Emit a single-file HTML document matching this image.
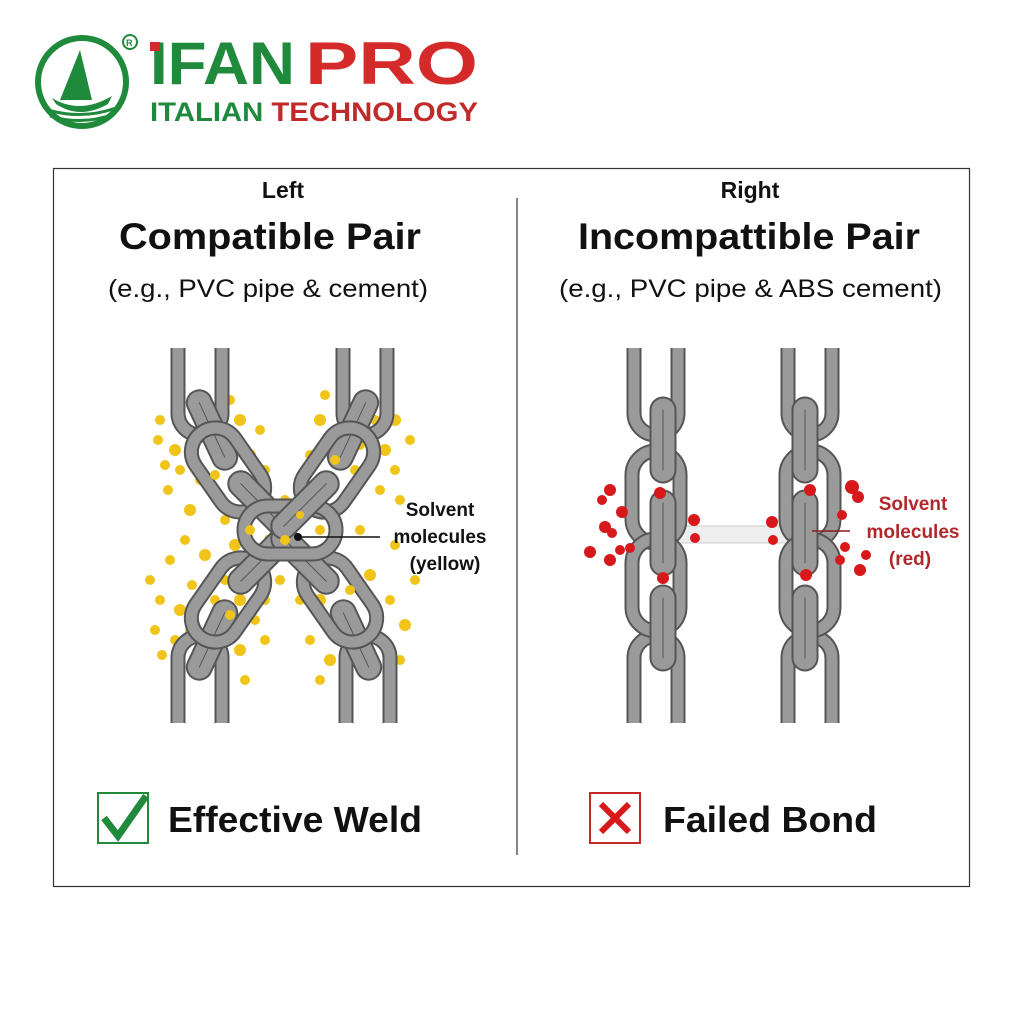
<!DOCTYPE html>
<html><head><meta charset="utf-8"><style>
html,body{margin:0;padding:0;background:#fff;}
body{width:1024px;height:1024px;overflow:hidden;font-family:"Liberation Sans",sans-serif;}
</style></head><body>
<svg width="1024" height="1024" viewBox="0 0 1024 1024" xmlns="http://www.w3.org/2000/svg" font-family="Liberation Sans, sans-serif">
<defs>
<g id="face"><rect x="-24" y="-46" width="48" height="92" rx="24" fill="none" stroke="#555" stroke-width="15"/><rect x="-24" y="-46" width="48" height="92" rx="24" fill="none" stroke="#9a9a9a" stroke-width="11"/></g>
<g id="side"><rect x="-6" y="-36" width="12" height="72" rx="6" fill="none" stroke="#555" stroke-width="15"/><rect x="-6" y="-36" width="12" height="72" rx="6" fill="none" stroke="#9a9a9a" stroke-width="11"/></g>
<g id="utop"><path d="M-22,-75 V-10 A22,22 0 0 0 22,-10 V-75" fill="none" stroke="#555" stroke-width="15"/><path d="M-22,-75 V-10 A22,22 0 0 0 22,-10 V-75" fill="none" stroke="#9a9a9a" stroke-width="11"/></g>
<g id="ubot"><path d="M-22,75 V10 A22,22 0 0 1 22,10 V75" fill="none" stroke="#555" stroke-width="15"/><path d="M-22,75 V10 A22,22 0 0 1 22,10 V75" fill="none" stroke="#9a9a9a" stroke-width="11"/></g>
</defs>
<!-- logo -->
<circle cx="82" cy="82" r="44" fill="none" stroke="#1f8a3c" stroke-width="6"/>
<path d="M80,50 L92,100 L60,100 Z" fill="#1f8a3c"/>
<path d="M52,98 Q80,115 112,96 L108,104 Q80,120 56,104Z" fill="#1f8a3c"/>
<path d="M48,110 Q82,120 116,108 M50,116 Q82,126 114,114" stroke="#1f8a3c" stroke-width="3" fill="none"/>
<circle cx="130" cy="42" r="7" fill="none" stroke="#1f8a3c" stroke-width="2"/>
<text x="126" y="46" font-size="9" font-weight="bold" fill="#1f8a3c">R</text>
<text x="150" y="84" font-size="60" font-weight="bold" fill="#1f8a3c" textLength="145" lengthAdjust="spacingAndGlyphs">IFAN</text>
<rect x="150" y="42" width="10" height="9" fill="#d42a2a"/>
<text x="305" y="84" font-size="60" font-weight="bold" fill="#d42a2a" textLength="173" lengthAdjust="spacingAndGlyphs">PRO</text>
<text x="150" y="121" font-size="27" font-weight="bold" fill="#1f8a3c" textLength="328" lengthAdjust="spacingAndGlyphs">ITALIAN <tspan fill="#c02a2a">TECHNOLOGY</tspan></text>
<!-- frame -->
<rect x="53.5" y="168.5" width="916" height="718" fill="none" stroke="#333" stroke-width="1.2"/>
<line x1="517" y1="198" x2="517" y2="855" stroke="#333" stroke-width="1.2"/>
<g fill="#111">
<text x="283" y="198" font-size="23" font-weight="bold" text-anchor="middle">Left</text>
<text x="119" y="249" font-size="37" font-weight="bold" textLength="302" lengthAdjust="spacingAndGlyphs">Compatible Pair</text>
<text x="108" y="297" font-size="25" textLength="320" lengthAdjust="spacingAndGlyphs">(e.g., PVC pipe &amp; cement)</text>
<text x="750" y="198" font-size="23" font-weight="bold" text-anchor="middle">Right</text>
<text x="578" y="249" font-size="37" font-weight="bold" textLength="342" lengthAdjust="spacingAndGlyphs">Incompattible Pair</text>
<text x="559" y="297" font-size="25" textLength="383" lengthAdjust="spacingAndGlyphs">(e.g., PVC pipe &amp; ABS cement)</text>
</g>
<!-- left yellow -->
<g fill="#f0c419">
<circle cx="160" cy="420" r="5"/><circle cx="158" cy="440" r="5"/><circle cx="175" cy="450" r="6"/><circle cx="180" cy="470" r="5"/><circle cx="168" cy="490" r="5"/><circle cx="190" cy="510" r="6"/><circle cx="185" cy="540" r="5"/><circle cx="205" cy="555" r="6"/><circle cx="170" cy="560" r="5"/><circle cx="160" cy="600" r="5"/><circle cx="155" cy="630" r="5"/><circle cx="180" cy="610" r="6"/><circle cx="175" cy="640" r="5"/><circle cx="230" cy="400" r="5"/><circle cx="240" cy="420" r="6"/><circle cx="235" cy="440" r="5"/><circle cx="250" cy="455" r="6"/><circle cx="265" cy="470" r="5"/><circle cx="245" cy="495" r="6"/><circle cx="225" cy="520" r="5"/><circle cx="235" cy="545" r="6"/><circle cx="250" cy="570" r="5"/><circle cx="240" cy="600" r="6"/><circle cx="255" cy="620" r="5"/><circle cx="240" cy="650" r="6"/><circle cx="245" cy="680" r="5"/><circle cx="215" cy="600" r="5"/><circle cx="225" cy="580" r="5"/><circle cx="200" cy="660" r="5"/><circle cx="325" cy="395" r="5"/><circle cx="320" cy="420" r="6"/><circle cx="335" cy="430" r="5"/><circle cx="310" cy="455" r="5"/><circle cx="300" cy="480" r="6"/><circle cx="285" cy="500" r="5"/><circle cx="310" cy="510" r="5"/><circle cx="330" cy="550" r="6"/><circle cx="310" cy="570" r="5"/><circle cx="320" cy="600" r="6"/><circle cx="335" cy="630" r="5"/><circle cx="330" cy="660" r="6"/><circle cx="320" cy="680" r="5"/><circle cx="375" cy="420" r="5"/><circle cx="395" cy="420" r="6"/><circle cx="410" cy="440" r="5"/><circle cx="385" cy="450" r="6"/><circle cx="395" cy="470" r="5"/><circle cx="380" cy="490" r="5"/><circle cx="360" cy="530" r="5"/><circle cx="370" cy="575" r="6"/><circle cx="390" cy="600" r="5"/><circle cx="405" cy="625" r="6"/><circle cx="385" cy="640" r="5"/><circle cx="400" cy="660" r="5"/><circle cx="350" cy="650" r="5"/><circle cx="270" cy="540" r="6"/><circle cx="295" cy="555" r="5"/><circle cx="280" cy="580" r="5"/><circle cx="265" cy="600" r="5"/><circle cx="300" cy="600" r="5"/><circle cx="210" cy="440" r="5"/><circle cx="200" cy="480" r="5"/><circle cx="355" cy="470" r="5"/><circle cx="150" cy="580" r="5"/><circle cx="415" cy="580" r="5"/>
<circle cx="165" cy="465" r="5"/><circle cx="192" cy="585" r="5"/><circle cx="162" cy="655" r="5"/><circle cx="190" cy="630" r="5"/><circle cx="265" cy="640" r="5"/><circle cx="400" cy="500" r="5"/><circle cx="345" cy="400" r="5"/><circle cx="360" cy="445" r="5"/><circle cx="395" cy="545" r="5"/><circle cx="345" cy="610" r="5"/><circle cx="310" cy="640" r="5"/><circle cx="260" cy="430" r="5"/>
</g>
<!-- left chains -->
<use href="#utop" x="200" y="423"/>
<use href="#side" transform="translate(212,430) rotate(-25)"/>
<use href="#face" transform="translate(228,470) rotate(-35)"/>
<use href="#side" transform="translate(262,505) rotate(-45)"/>
<use href="#ubot" x="200" y="648"/>
<use href="#side" transform="translate(212,640) rotate(25)"/>
<use href="#face" transform="translate(228,600) rotate(35)"/>
<use href="#side" transform="translate(262,560) rotate(45)"/>
<use href="#utop" x="365" y="423"/>
<use href="#side" transform="translate(353,430) rotate(25)"/>
<use href="#face" transform="translate(337,470) rotate(35)"/>
<use href="#ubot" x="368" y="648"/>
<use href="#side" transform="translate(356,640) rotate(-25)"/>
<use href="#face" transform="translate(340,600) rotate(-35)"/>
<use href="#side" transform="translate(305,560) rotate(-45)"/>
<use href="#face" transform="translate(290,530) rotate(90)"/>
<use href="#side" transform="translate(305,505) rotate(45)"/>
<g fill="#f0c419"><circle cx="285" cy="540" r="5"/><circle cx="320" cy="530" r="5"/><circle cx="250" cy="530" r="5"/><circle cx="300" cy="515" r="4"/><circle cx="215" cy="475" r="5"/><circle cx="350" cy="590" r="5"/><circle cx="230" cy="615" r="5"/><circle cx="335" cy="460" r="5"/></g>
<circle cx="298" cy="537" r="4" fill="#111"/>
<line x1="302" y1="537" x2="380" y2="537" stroke="#111" stroke-width="1.5"/>
<g text-anchor="middle" font-size="19" font-weight="bold" fill="#111">
<text x="440" y="516">Solvent</text><text x="440" y="543">molecules</text><text x="445" y="570">(yellow)</text>
</g>
<!-- right bar -->
<rect x="676" y="526" width="118" height="17" fill="#eee" stroke="#ccc"/>
<!-- right chains -->
<g>
<use href="#utop" x="656" y="423"/>
<use href="#ubot" x="656" y="648"/>
<use href="#face" x="656" y="497"/>
<use href="#face" x="656" y="585"/>
<use href="#side" x="663" y="440"/>
<use href="#side" x="663" y="533"/>
<use href="#side" x="663" y="628"/>
<use href="#utop" x="810" y="423"/>
<use href="#ubot" x="810" y="648"/>
<use href="#face" x="810" y="497"/>
<use href="#face" x="810" y="585"/>
<use href="#side" x="805" y="440"/>
<use href="#side" x="805" y="533"/>
<use href="#side" x="805" y="628"/>
</g>
<g fill="#d8191c">
<circle cx="610" cy="490" r="6"/><circle cx="602" cy="500" r="5"/><circle cx="622" cy="512" r="6"/><circle cx="605" cy="527" r="6"/><circle cx="612" cy="533" r="5"/><circle cx="590" cy="552" r="6"/><circle cx="610" cy="560" r="6"/><circle cx="620" cy="550" r="5"/><circle cx="630" cy="548" r="5"/><circle cx="660" cy="493" r="6"/><circle cx="663" cy="578" r="6"/><circle cx="694" cy="520" r="6"/><circle cx="695" cy="538" r="5"/><circle cx="772" cy="522" r="6"/><circle cx="773" cy="540" r="5"/><circle cx="810" cy="490" r="6"/><circle cx="806" cy="575" r="6"/><circle cx="852" cy="487" r="7"/><circle cx="858" cy="497" r="6"/><circle cx="842" cy="515" r="5"/><circle cx="845" cy="547" r="5"/><circle cx="840" cy="560" r="5"/><circle cx="860" cy="570" r="6"/><circle cx="866" cy="555" r="5"/>
</g>
<line x1="812" y1="531" x2="850" y2="531" stroke="#8b1a1a" stroke-width="1.5"/>
<g text-anchor="middle" font-size="19" font-weight="bold" fill="#b2282a">
<text x="913" y="510">Solvent</text><text x="913" y="538">molecules</text><text x="910" y="565">(red)</text>
</g>
<!-- bottom labels -->
<rect x="98" y="793" width="50" height="50" fill="none" stroke="#1f8a3c" stroke-width="2"/>
<path d="M104,818 L118,836 L146,796" fill="none" stroke="#1f8a3c" stroke-width="7"/>
<text x="168" y="832" font-size="36" font-weight="bold" fill="#111" textLength="254" lengthAdjust="spacingAndGlyphs">Effective Weld</text>
<rect x="590" y="793" width="50" height="50" fill="none" stroke="#c62828" stroke-width="2"/>
<path d="M601,804 L629,832 M629,804 L601,832" stroke="#d8191c" stroke-width="6"/>
<text x="663" y="832" font-size="36" font-weight="bold" fill="#111" textLength="214" lengthAdjust="spacingAndGlyphs">Failed Bond</text>
</svg>
</body></html>
